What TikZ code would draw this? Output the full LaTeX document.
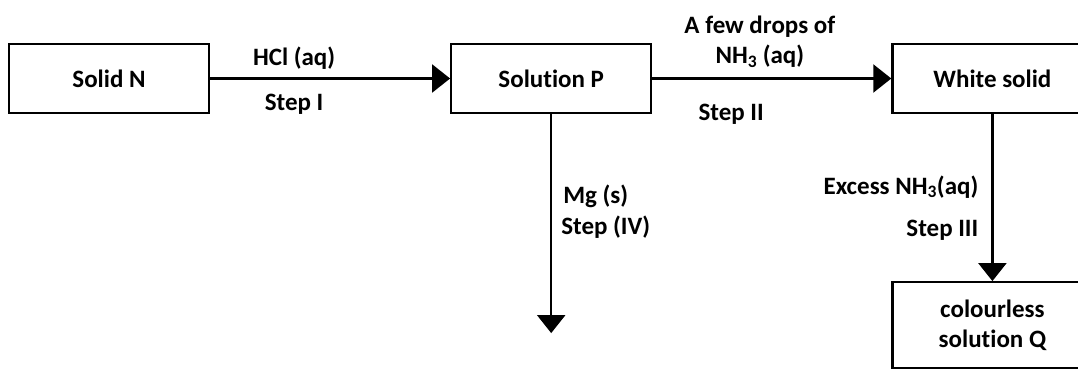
\documentclass[tikz,border=0pt]{standalone}
\usepackage{fontspec}
\setmainfont{Carlito}[Ligatures=NoCommon]
\usepackage{tikz}
\usetikzlibrary{arrows.meta, positioning}

\begin{document}
\begin{tikzpicture}[
  x=1pt, y=-1pt,
  box/.style={rectangle, draw=black, line width=2.2pt, minimum width=200pt,
              minimum height=69pt, align=center, inner sep=4pt,
              font=\fontsize{25}{30}\selectfont\bfseries},
  arr/.style={-{Triangle[length=18pt, width=28pt]}, line width=2.2pt, black},
  lbl/.style={font=\fontsize{25}{30}\selectfont\bfseries, inner sep=0pt}
]
\useasboundingbox (0,0) rectangle (1078,369);

% ---- Top row ----
\node[box] at (109,78.5) (solidn) {Solid N};
\node[box, right=240pt of solidn] (solp) {Solution P};
\node[box, right=239pt of solp] (whites) {White solid};
\node[box, below=167pt of whites, minimum height=86pt] (colq) {colourless\\solution Q};
\coordinate[below=219pt of solp.south] (mgend);

% ---- Arrows ----
\draw[arr] (solidn) -- (solp)
  node[lbl, pos=0.35, anchor=base, yshift=13pt] {HCl (aq)}
  node[lbl, pos=0.35, anchor=base, yshift=-32pt] {Step I};
\draw[arr] (solp) -- (whites)
  node[lbl, pos=0.45, anchor=south, align=center, yshift=10pt] {A few drops of\\NH\textsubscript{3} (aq)}
  node[lbl, pos=0.33, anchor=base, yshift=-42pt] {Step II};
\draw[arr] (solp.south) -- (mgend)
  node[lbl, pos=0.41, anchor=base west, xshift=11pt] {Mg (s)}
  node[lbl, pos=0.548, anchor=base west, xshift=9pt] {Step (IV)};
\draw[arr] (whites.south) -- (colq.north)
  node[lbl, pos=0.48, anchor=base east, xshift=-13pt] {Excess NH\textsubscript{3}(aq)}
  node[lbl, pos=0.73, anchor=base east, xshift=-13pt] {Step III};

\end{tikzpicture}
\end{document}
